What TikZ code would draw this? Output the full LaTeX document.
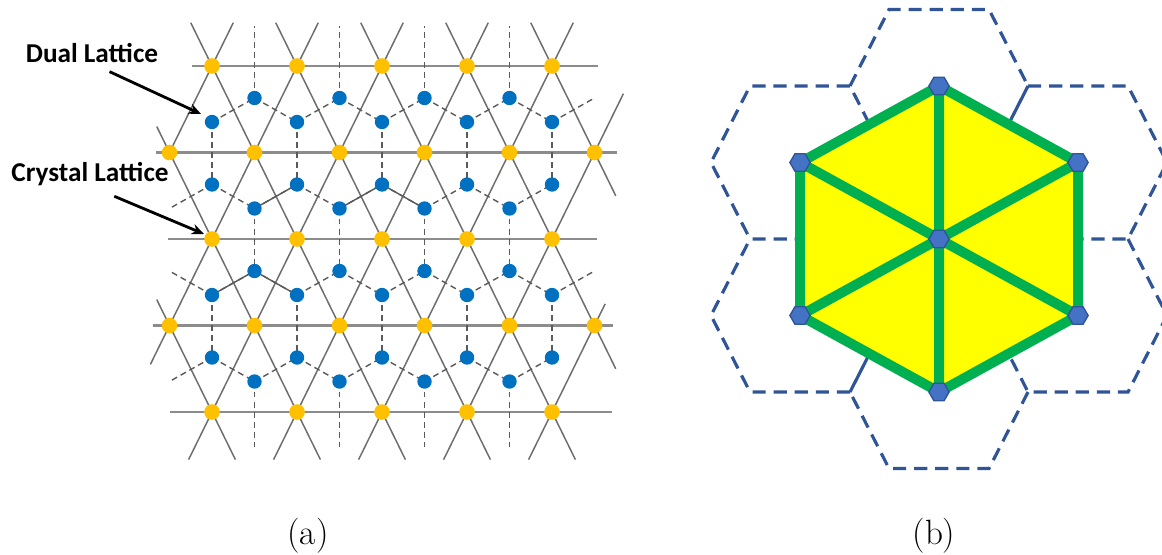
\documentclass[tikz,border=0pt]{standalone}
\usepackage{fontspec}
\newfontfamily\tagfont{Carlito}
\usetikzlibrary{arrows.meta,calc,shapes.geometric}
\definecolor{latgrey}{HTML}{6E6E6E}
\definecolor{rowgrey}{HTML}{8C8C8C}
\definecolor{dualgrey}{HTML}{5A5A5A}
\definecolor{dualblue}{HTML}{0070C0}
\definecolor{crystalgold}{HTML}{FFC000}
\definecolor{cellblue}{HTML}{2F5597}
\definecolor{siteblue}{HTML}{4472C4}
\definecolor{bondgreen}{HTML}{00B050}
\definecolor{tileyellow}{HTML}{FFFF00}
\tikzset {
  >={Stealth[length=7pt,width=6pt]},
  every node/.style={font=\small},
  bondline/.style={draw=latgrey,line width=0.85pt},
  rowline/.style={draw=rowgrey,line width=1.2pt},
  dualline/.style={draw=dualgrey,line width=0.8pt,dash pattern=on 3.4pt off 2.3pt},
  dualsolid/.style={draw=dualgrey,line width=0.8pt},
  pointer/.style={->,line width=1.6pt},
  latticetag/.style={font=\tagfont\bfseries\fontsize{15.5}{18}\selectfont,inner sep=0pt},
  sublabel/.style={font=\fontsize{20}{24}\selectfont},
  cellline/.style={draw=cellblue,line width=1.8pt,dash pattern=on 7.5pt off 4.5pt},
  cellsolid/.style={draw=cellblue,line width=1.8pt},
  bond/.style={draw=bondgreen,line width=5.7pt},
  site/.style={regular polygon,regular polygon sides=6,minimum size=11.5pt,
    inner sep=0pt,fill=siteblue,draw=cellblue,line width=0.8pt},
}

\begin{document}
\begin{tikzpicture}[x=0.02cm,y=-0.02cm]
  \useasboundingbox (0,0) rectangle (1162,554);
  \foreach \r/\xa/\xb in {0/192/598,1/156/617,2/168/597,3/153/613,4/170/612}
    \draw[rowline] (\xa,{66+86.5*\r}) -- (\xb,{66+86.5*\r});
  \foreach \s/\ra/\rb in {1/-0.5/1.05,3/-0.5/3.45,5/-0.5/4.55,7/-0.5/4.55,9/-0.5/4.55,11/0.32/4.55,13/2.75/4.55}
    \draw[bondline] ({169.5+42.5*(\s-\ra)},{66+86.5*\ra}) -- ({169.5+42.5*(\s-\rb)},{66+86.5*\rb});
  \foreach \d/\ra/\rb in {-3/2.7/4.55,-1/0.7/4.55,1/-0.5/4.55,3/-0.5/4.55,5/-0.5/4.55,7/-0.5/3.5,9/-0.5/1.5}
    \draw[bondline] ({169.5+42.5*(\d+\ra)},{66+86.5*\ra}) -- ({169.5+42.5*(\d+\rb)},{66+86.5*\rb});

  \foreach \j in {0,...,3}
    \foreach \p in {0,...,10} {
      \pgfmathsetmacro\dy{ifthenelse(mod(\p+\j,2)==0,32,56)}
      \coordinate (d-\j-\p) at ({169.5+42.5*\p},{66+86.5*\j+\dy});
    }
  \coordinate (dualtop) at (0,26);
  \coordinate (dualbot) at (0,447);
  \foreach \j in {0,...,3}
    \foreach \p [count=\q from 2] in {1,...,8}
      \draw[dualline] (d-\j-\p) -- (d-\j-\q);
  \draw[dualline] (d-0-9) -- (d-0-10);
  \draw[dualline] (d-1-1) -- (d-1-0);
  \draw[dualline] (d-2-1) -- (d-2-0);
  \draw[dualline] (d-2-9) -- (d-2-10);
  \draw[dualline] (d-3-1) -- (d-3-0);
  \draw[dualsolid] (d-1-2) -- (d-1-3);
  \draw[dualsolid] (d-1-4) -- (d-1-5) -- (d-1-6);
  \draw[dualsolid] (d-2-1) -- (d-2-2) -- (d-2-3);
  \foreach \j/\k in {0/1,2/3}
    \foreach \p in {1,3,5,7,9}
      \draw[dualline] (d-\j-\p) -- (d-\k-\p);
  \foreach \p in {2,4,6,8} {
    \draw[dualline] (d-1-\p) -- (d-2-\p);
    \draw[dualline] (d-0-\p) -- (d-0-\p |- dualtop);
    \draw[dualline] (d-3-\p) -- (d-3-\p |- dualbot);
  }
  \foreach \j in {0,...,3}
    \foreach \p in {1,...,9}
      \fill[dualblue] (d-\j-\p) circle[radius=7.2];
  \foreach \r in {0,2,4}
    \foreach \p in {1,3,...,9}
      \fill[crystalgold] ({169.5+42.5*\p},{66+86.5*\r}) circle[radius=7.8];
  \foreach \r in {1,3}
    \foreach \p in {0,2,...,10}
      \fill[crystalgold] ({169.5+42.5*\p},{66+86.5*\r}) circle[radius=7.8];

  \node[latticetag] (duallbl) at (92,53.5) {Dual Lattice};
  \node[latticetag] (crystallbl) at (90,174) {Crystal Lattice};
  \coordinate (dualtip) at (201,114);
  \coordinate (crystaltip) at (204,234);
  \draw[pointer,shorten <=11pt] (duallbl.south) -- (dualtip);
  \draw[pointer,shorten <=15pt] (crystallbl.south) -- (crystaltip);
  \node[sublabel] (capa) at (308,536) {(a)};

  \coordinate (c0) at (939,239);
  \coordinate (v1) at (939,86);
  \coordinate (v2) at (1078,162.5);
  \coordinate (v3) at (1078,315.5);
  \coordinate (v4) at (939,392);
  \coordinate (v5) at (800,315.5);
  \coordinate (v6) at (800,162.5);
  \foreach \i in {1,...,6} {
    \coordinate (h\i-L) at ($(v\i)+(-89,0)$);
    \coordinate (h\i-TL) at ($(v\i)+(-50,-76.5)$);
    \coordinate (h\i-TR) at ($(v\i)+(50,-76.5)$);
    \coordinate (h\i-R) at ($(v\i)+(89,0)$);
    \coordinate (h\i-BR) at ($(v\i)+(50,76.5)$);
    \coordinate (h\i-BL) at ($(v\i)+(-50,76.5)$);
  }
  \draw[cellline] (h6-BR) -- (h6-BL) -- (h6-L) -- (h6-TL) -- (h6-TR) -- (h6-R);
  \draw[cellline] (h1-L) -- (h1-TL) -- (h1-TR) -- (h1-R);
  \draw[cellsolid] (h1-R) -- (h1-BR);
  \draw[cellline] (h2-TL) -- (h2-TR) -- (h2-R) -- (h2-BR) -- (h2-BL);
  \draw[cellline] (h3-TR) -- (h3-R) -- (h3-BR) -- (h3-BL) -- (h3-L);
  \draw[cellline] (h4-R) -- (h4-BR) -- (h4-BL) -- (h4-L);
  \draw[cellsolid] (h4-L) -- (h4-TL);
  \draw[cellline] (h5-BR) -- (h5-BL) -- (h5-L) -- (h5-TL);
  \fill[tileyellow] (v1) -- (v2) -- (v3) -- (v4) -- (v5) -- (v6) -- cycle;
  \draw[bond] (v1) -- (v2) -- (v3) -- (v4) -- (v5) -- (v6) -- cycle;
  \draw[bond] (v1) -- (v4) (v2) -- (v5) (v3) -- (v6);
  \foreach \i in {1,...,6}
    \node[site] (m\i) at (v\i) {};
  \node[site] (m0) at (c0) {};
  \node[sublabel] (capb) at (934,536) {(b)};
\end{tikzpicture}
\end{document}
